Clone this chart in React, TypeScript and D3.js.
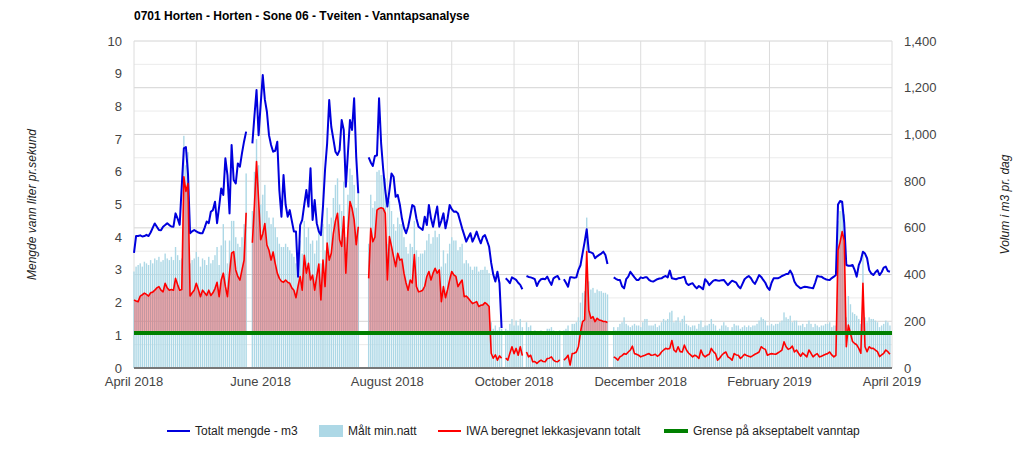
import React from "react";
import * as d3 from "d3";

// ---------- data ----------
const seriesStart = new Date(2018, 3, 1);
const axisEnd = new Date(2019, 3, 1);

const xTickDates = [
  new Date(2018, 3, 1), new Date(2018, 5, 1), new Date(2018, 7, 1), new Date(2018, 9, 1),
  new Date(2018, 11, 1), new Date(2019, 1, 1), new Date(2019, 3, 1),
];
const xTickLabels = ["April 2018", "June 2018", "August 2018", "October 2018", "December 2018", "February 2019", "April 2019"];
const leftTicks = [0, 1, 2, 3, 4, 5, 6, 7, 8, 9, 10];
const rightTicks = [0, 200, 400, 600, 800, 1000, 1200, 1400];
const rightMinorTicks = [100, 300, 500, 700, 900, 1100, 1300];
const limitLitrePerSec = 1.07;

const titleText = "0701 Horten - Horten - Sone 06 - Tveiten - Vanntapsanalyse";
const leftAxisTitle = "Mengde vann liter pr.sekund";
const rightAxisTitle = "Volum i m3 pr. dag";
const legendNames = ["Totalt mengde - m3", "Målt min.natt", "IWA beregnet lekkasjevann totalt", "Grense på akseptabelt vanntap"];

// Daily total volume (m3), from 1 April 2018
const totalM3: (number | null)[] = [
  493, 565, 565, 568, 563, 565, 570, 565, 580, 600,
  619, 605, 591, 590, 605, 612, 620, 612, 606, 605,
  662, 640, 613, 780, 940, 946, 830, 577, 585, 591,
  585, 580, 577, 577, 600, 627, 620, 669, 676, 712,
  620, 691, 769, 741, 898, 826, 662, 955, 805, 790,
  876, 862, 920, 970, 1012, null, null, 962, 1080, 1190,
  997, 1130, 1254, 1150, 1097, 997, 955, 926, 930, 969,
  760, 648, 826, 700, 648, 676, 630, 584, 584, 391,
  612, 634, 700, 762, 691, 855, 634, 719, 620, 584,
  569, 691, 850, 962, 1147, 1033, 980, 926, 912, 933,
  1062, 1019, 776, 920, 1062, 1019, 1155, 905, 748, null,
  null, null, null, 902, 880, 865, 908, 910, 1155, 962,
  850, 760, 691, 760, 833, 819, 733, 741, 700, 641,
  600, 577, 605, 650, 698, 691, 640, 605, 598, 591,
  648, 612, 698, 641, 605, 650, 691, 605, 630, 662,
  598, 640, 698, 680, 669, 670, 662, 630, 598, 570,
  541, 560, 577, 541, 560, 584, 556, 534, 562, 569,
  545, 519, 450, 400, 370, 412, 362, 171, null, 384,
  375, 363, 388, 383, 377, 365, 356, 337, null, 394,
  390, 388, 385, 380, 351, 370, 380, 382, 380, 391,
  372, 356, 384, 390, 394, 377, null, 380, 365, 348,
  388, 388, 386, 388, 420, 440, 491, 540, 594, 498,
  495, 491, 470, 478, 484, 490, 498, 484, 445, null,
  null, 388, 382, 377, 377, 350, 341, 380, 391, 412,
  400, 388, 377, 377, 388, 385, 388, 388, 377, 372,
  370, 375, 380, 383, 384, 390, 394, 388, 417, 384,
  382, 380, 384, 385, 388, 391, 363, 355, 360, 363,
  350, 341, 351, 345, 337, 380, 370, 355, 365, 374,
  377, 375, 374, 376, 377, 366, 355, 365, 374, 370,
  365, 350, 341, 360, 380, 388, 394, 385, 370, 360,
  378, 398, 390, 377, 365, 345, 334, 365, 384, 384,
  384, 388, 394, 398, 402, 402, 417, 400, 370, 355,
  348, 341, 345, 348, 347, 345, 343, 341, 365, 394,
  392, 391, 385, 380, 378, 377, 385, 391, 398, 700,
  715, 712, 620, 441, 438, 438, 441, 420, 391, 440,
  462, 498, 490, 470, 420, 405, 398, 410, 419, 398,
  410, 430, 434, 415, 412,
];

// Daily measured minimum night flow (l/s)
const minNight: (number | null)[] = [
  2.95, 3.1, 3.15, 3.2, 3.1, 3.25, 3.2, 3.15, 3.3, 3.2,
  3.35, 3.3, 3.4, 3.25, 3.3, 3.5, 3.35, 3.3, 3.4, 3.3,
  3.7, 3.45, 3.3, 3.35, 7.1, 6.2, 6.6, 3.2, 3.3, 3.35,
  3.55, 3.4, 3.1, 3.35, 3.3, 3.15, 3.4, 3.2, 3.3, 3.45,
  3.7, 3.15, 3.75, 4.4, 3.9, 3.2, 3.9, 4.5, 4.5, 4.0,
  3.8, 3.7, 4.0, 4.4, 5.95, null, null, 4.8, 6.0, 7.0,
  6.2, 5.0, 5.3, 5.6, 4.8, 4.6, 4.4, 4.6, 4.3, 4.0,
  3.8, 3.7, 3.7, 3.8, 3.7, 3.6, 3.5, 3.4, 3.2, 3.6,
  3.9, 3.5, 4.5, 4.0, 4.3, 3.8, 3.9, 3.5, 3.9, 4.3,
  3.2, 4.4, 3.6, 4.9, 4.4, 4.6, 5.2, 5.6, 5.8, 5.0,
  4.8, 5.7, 4.0, 5.3, 6.1, 5.9, 5.6, 4.9, 5.4, null,
  null, null, null, 3.8, 5.3, 4.9, 5.1, 6.0, 6.05, 5.9,
  5.9, 5.8, 3.8, 5.1, 4.8, 4.4, 4.2, 4.6, 4.4, 4.4,
  4.0, 3.7, 3.5, 3.8, 3.7, 4.5, 3.6, 3.4, 3.5, 3.5,
  3.6, 3.9, 4.1, 3.8, 4.0, 4.2, 4.0, 4.1, 3.1, 3.6,
  3.2, 3.5, 3.8, 4.0, 3.9, 3.9, 3.6, 3.7, 3.8, 3.2,
  3.3, 3.2, 3.1, 3.0, 3.1, 3.1, 2.95, 3.0, 3.0, 3.1,
  3.0, 2.9, 1.4, 1.2, 1.3, 1.15, 1.25, 1.2, null, 1.2,
  1.15, 1.35, 1.5, 1.3, 1.45, 1.3, 1.5, 1.25, null, 1.4,
  1.25, 1.3, 1.1, 1.15, 1.05, 1.1, 1.15, 1.1, 1.1, 1.2,
  1.2, 1.25, 1.15, 1.1, 1.1, 1.15, null, 1.15, 1.2, 1.3,
  1.0, 1.35, 1.35, 1.4, 1.55, 2.0, 2.3, 2.35, 4.6, 2.65,
  2.4, 2.45, 2.3, 2.4, 2.35, 2.35, 2.3, 2.3, 2.25, null,
  null, 1.25, 1.15, 1.25, 1.35, 1.4, 1.55, 1.35, 1.3, 1.25,
  1.3, 1.35, 1.3, 1.3, 1.25, 1.4, 1.5, 1.5, 1.3, 1.3,
  1.3, 1.35, 1.25, 1.3, 1.4, 1.5, 1.45, 1.5, 1.7, 1.75,
  1.4, 1.45, 1.55, 1.4, 1.5, 1.6, 1.35, 1.3, 1.25, 1.3,
  1.3, 1.2, 1.35, 1.45, 1.25, 1.3, 1.3, 1.35, 1.5, 1.35,
  1.3, 1.15, 1.2, 1.3, 1.4, 1.3, 1.25, 1.15, 1.25, 1.35,
  1.3, 1.3, 1.2, 1.25, 1.3, 1.25, 1.3, 1.25, 1.3, 1.3,
  1.35, 1.45, 1.55, 1.5, 1.45, 1.3, 1.3, 1.35, 1.3, 1.35,
  1.35, 1.4, 1.45, 1.7, 1.55, 1.5, 1.6, 1.4, 1.45, 1.45,
  1.3, 1.3, 1.35, 1.25, 1.35, 1.45, 1.35, 1.25, 1.35, 1.3,
  1.25, 1.3, 1.3, 1.35, 1.35, 1.4, 1.25, 1.3, 1.3, 4.5,
  4.8, 5.05, 4.7, 1.55, 2.2, 1.95, 1.7, 1.65, 1.6, 1.5,
  1.35, 3.5, 1.55, 1.4, 1.55, 1.5, 1.5, 1.45, 1.4, 1.25,
  1.3, 1.35, 1.45, 1.4, 1.3,
];

// Daily IWA computed leakage (l/s)
const iwaLeak: (number | null)[] = [
  2.08, 2.05, 2.03, 2.2, 2.24, 2.29, 2.25, 2.2, 2.3, 2.32,
  2.38, 2.45, 2.49, 2.38, 2.33, 2.59, 2.45, 2.38, 2.4, 2.38,
  2.74, 2.55, 2.38, 2.4, 5.85, 5.4, 5.64, 2.2, 2.3, 2.38,
  2.59, 2.4, 2.18, 2.38, 2.3, 2.22, 2.38, 2.22, 2.3, 2.43,
  2.62, 2.18, 2.69, 2.9, 2.5, 2.18, 2.9, 3.51, 3.56, 3.0,
  2.8, 2.69, 3.0, 3.3, 4.75, null, null, 3.83, 5.0, 6.31,
  5.14, 3.92, 4.1, 4.42, 3.76, 3.6, 3.3, 3.55, 3.2, 2.9,
  2.74, 2.65, 2.62, 2.69, 2.62, 2.59, 2.45, 2.38, 2.15, 2.5,
  2.8, 2.38, 3.45, 2.9, 3.2, 2.69, 2.84, 2.38, 2.8, 3.18,
  2.08, 3.3, 2.49, 3.82, 3.3, 3.51, 4.12, 4.5, 4.73, 3.92,
  3.72, 4.63, 2.9, 4.2, 5.09, 4.88, 4.53, 3.77, 4.32, null,
  null, null, null, 2.74, 4.27, 3.86, 4.0, 4.83, 4.88, 4.9,
  4.88, 4.73, 2.69, 4.02, 3.72, 3.4, 3.1, 3.51, 3.3, 3.33,
  2.9, 2.6, 2.38, 2.69, 2.6, 3.47, 2.49, 2.33, 2.35, 2.38,
  2.5, 2.8, 2.95, 2.69, 2.9, 3.05, 2.9, 3.0, 2.03, 2.49,
  2.15, 2.4, 2.7, 2.95, 2.85, 2.8, 2.49, 2.6, 2.69, 2.18,
  2.2, 2.13, 2.05, 1.97, 2.0, 2.03, 1.88, 1.92, 1.93, 2.0,
  1.95, 1.88, 0.45, 0.3, 0.4, 0.24, 0.37, 0.3, null, 0.3,
  0.24, 0.45, 0.65, 0.44, 0.6, 0.39, 0.65, 0.38, null, 0.49,
  0.34, 0.39, 0.19, 0.2, 0.14, 0.2, 0.24, 0.2, 0.19, 0.29,
  0.3, 0.34, 0.24, 0.2, 0.19, 0.25, null, 0.24, 0.3, 0.39,
  0.09, 0.44, 0.45, 0.49, 0.65, 1.1, 1.42, 1.47, 3.56, 1.77,
  1.52, 1.57, 1.42, 1.52, 1.47, 1.45, 1.42, 1.42, 1.39, null,
  null, 0.34, 0.3, 0.24, 0.34, 0.38, 0.44, 0.42, 0.49, 0.55,
  0.67, 0.44, 0.42, 0.39, 0.34, 0.37, 0.39, 0.42, 0.44, 0.39,
  0.4, 0.42, 0.36, 0.4, 0.49, 0.55, 0.6, 0.58, 0.6, 0.84,
  0.55, 0.49, 0.65, 0.5, 0.49, 0.7, 0.55, 0.46, 0.4, 0.34,
  0.39, 0.36, 0.29, 0.55, 0.4, 0.34, 0.39, 0.42, 0.6, 0.5,
  0.44, 0.24, 0.3, 0.39, 0.45, 0.49, 0.34, 0.3, 0.24, 0.44,
  0.4, 0.39, 0.29, 0.35, 0.42, 0.38, 0.36, 0.34, 0.38, 0.42,
  0.45, 0.49, 0.65, 0.6, 0.57, 0.39, 0.42, 0.44, 0.43, 0.42,
  0.46, 0.5, 0.55, 0.8, 0.65, 0.57, 0.6, 0.67, 0.49, 0.55,
  0.45, 0.36, 0.46, 0.4, 0.34, 0.55, 0.45, 0.34, 0.4, 0.44,
  0.34, 0.36, 0.39, 0.42, 0.44, 0.49, 0.4, 0.34, 0.39, 3.6,
  3.85, 4.17, 3.9, 0.65, 1.31, 1.06, 0.81, 0.75, 0.71, 0.6,
  0.45, 2.59, 0.65, 0.5, 0.65, 0.6, 0.6, 0.55, 0.5, 0.35,
  0.4, 0.45, 0.55, 0.5, 0.42,
];

// ---------- layout ----------
const W = 1024;
const H = 449;
const P = { left: 134, right: 892, top: 41, bottom: 368 };
const FONT = "Arial, 'Liberation Sans', sans-serif";
const BLUE = "#0000dd";
const RED = "#ff0000";
const GREEN = "#008000";
const BAR = "#add8e6";

export default function App() {
  const x = d3.scaleTime().domain([seriesStart, axisEnd]).range([P.left, P.right]);
  const yL = d3.scaleLinear().domain([0, 10]).range([P.bottom, P.top]);
  const yR = d3.scaleLinear().domain([0, 1400]).range([P.bottom, P.top]);

  const dates = totalM3.map((_, i) => d3.timeDay.offset(seriesStart, i));
  const months = d3.timeMonth.range(seriesStart, d3.timeDay.offset(axisEnd, 1));

  const blueLine = d3
    .line<number | null>()
    .defined((v) => v != null)
    .x((_, i) => x(dates[i]))
    .y((v) => yR(v as number));

  const redLine = d3
    .line<number | null>()
    .defined((v) => v != null)
    .x((_, i) => x(dates[i]))
    .y((v) => yL(v as number));

  const redArea = d3
    .area<number | null>()
    .defined((v) => v != null)
    .x((_, i) => x(dates[i]))
    .y0(yL(limitLitrePerSec))
    .y1((v) => yL(Math.max(v as number, limitLitrePerSec)));

  const barW = 1.4;
  const legendY = 431;

  return (
    <svg
      width={W}
      height={H}
      style={{ position: "absolute", left: 0, top: 0, background: "#fff" }}
      fontFamily={FONT}
    >
      <rect x={0} y={0} width={W} height={H} fill="#fff" />
      {/* title */}
      <text x={P.left} y={20} fontSize={12} fontWeight="bold" fill="#000">
        {titleText}
      </text>

      {/* horizontal gridlines */}
      {rightMinorTicks.map((t) => (
        <line key={"hm" + t} x1={P.left} x2={P.right} y1={yR(t)} y2={yR(t)} stroke="#ebebeb" strokeWidth={1} />
      ))}
      {rightTicks.map((t) => (
        <line key={"hM" + t} x1={P.left} x2={P.right} y1={yR(t)} y2={yR(t)} stroke="#d4d4d4" strokeWidth={1} />
      ))}
      {/* vertical gridlines */}
      {months.map((m, i) => (
        <line key={"v" + i} x1={x(m)} x2={x(m)} y1={P.top} y2={P.bottom} stroke="#dcdcdc" strokeWidth={1} />
      ))}

      {/* bars */}
      {minNight.map((v, i) =>
        v == null ? null : (
          <rect
            key={"b" + i}
            x={x(dates[i]) - barW / 2}
            y={yL(v)}
            width={barW}
            height={yL(0) - yL(v)}
            fill={BAR}
          />
        )
      )}

      {/* leakage area above limit */}
      <path d={redArea(iwaLeak) || ""} fill={RED} fillOpacity={0.3} stroke="none" />

      {/* blue total line */}
      <path d={blueLine(totalM3) || ""} fill="none" stroke={BLUE} strokeWidth={2} strokeLinejoin="round" />
      {/* red leakage line */}
      <path d={redLine(iwaLeak) || ""} fill="none" stroke={RED} strokeWidth={1.6} strokeLinejoin="round" />
      {/* green limit */}
      <line
        x1={P.left}
        x2={P.right}
        y1={yL(limitLitrePerSec)}
        y2={yL(limitLitrePerSec)}
        stroke={GREEN}
        strokeWidth={4}
      />

      {/* baseline */}
      <line x1={P.left} x2={P.right} y1={P.bottom} y2={P.bottom} stroke="#777" strokeWidth={2} />

      {/* left axis labels */}
      {leftTicks.map((t) => (
        <text key={"l" + t} x={122} y={yL(t)} dy="0.35em" textAnchor="end" fontSize={13} fill="#444">
          {t}
        </text>
      ))}
      {/* right axis labels */}
      {rightTicks.map((t) => (
        <text key={"r" + t} x={904} y={yR(t)} dy="0.35em" textAnchor="start" fontSize={13} fill="#444">
          {d3.format(",")(t)}
        </text>
      ))}
      {/* x axis labels */}
      {xTickDates.map((d, i) => (
        <text key={"x" + i} x={x(d)} y={386} textAnchor="middle" fontSize={13} fill="#444">
          {xTickLabels[i]}
        </text>
      ))}

      {/* axis titles */}
      <text
        transform={`translate(36, ${(P.top + P.bottom) / 2}) rotate(-90)`}
        textAnchor="middle"
        fontSize={12}
        fontStyle="italic"
        fill="#222"
      >
        {leftAxisTitle}
      </text>
      <text
        transform={`translate(1009, ${(P.top + P.bottom) / 2}) rotate(-90)`}
        textAnchor="middle"
        fontSize={12}
        fontStyle="italic"
        fill="#222"
      >
        {rightAxisTitle}
      </text>

      {/* legend */}
      <g fontSize={12} fill="#222">
        <line x1={167} x2={190} y1={legendY} y2={legendY} stroke={BLUE} strokeWidth={2} />
        <text x={195} y={legendY} dy="0.35em">{legendNames[0]}</text>
        <rect x={319} y={legendY - 6} width={24} height={12} fill={BAR} />
        <text x={348} y={legendY} dy="0.35em">{legendNames[1]}</text>
        <line x1={438} x2={461} y1={legendY} y2={legendY} stroke={RED} strokeWidth={2} />
        <text x={466} y={legendY} dy="0.35em">{legendNames[2]}</text>
        <line x1={664} x2={688} y1={legendY} y2={legendY} stroke={GREEN} strokeWidth={4} />
        <text x={693} y={legendY} dy="0.35em">{legendNames[3]}</text>
      </g>
    </svg>
  );
}
